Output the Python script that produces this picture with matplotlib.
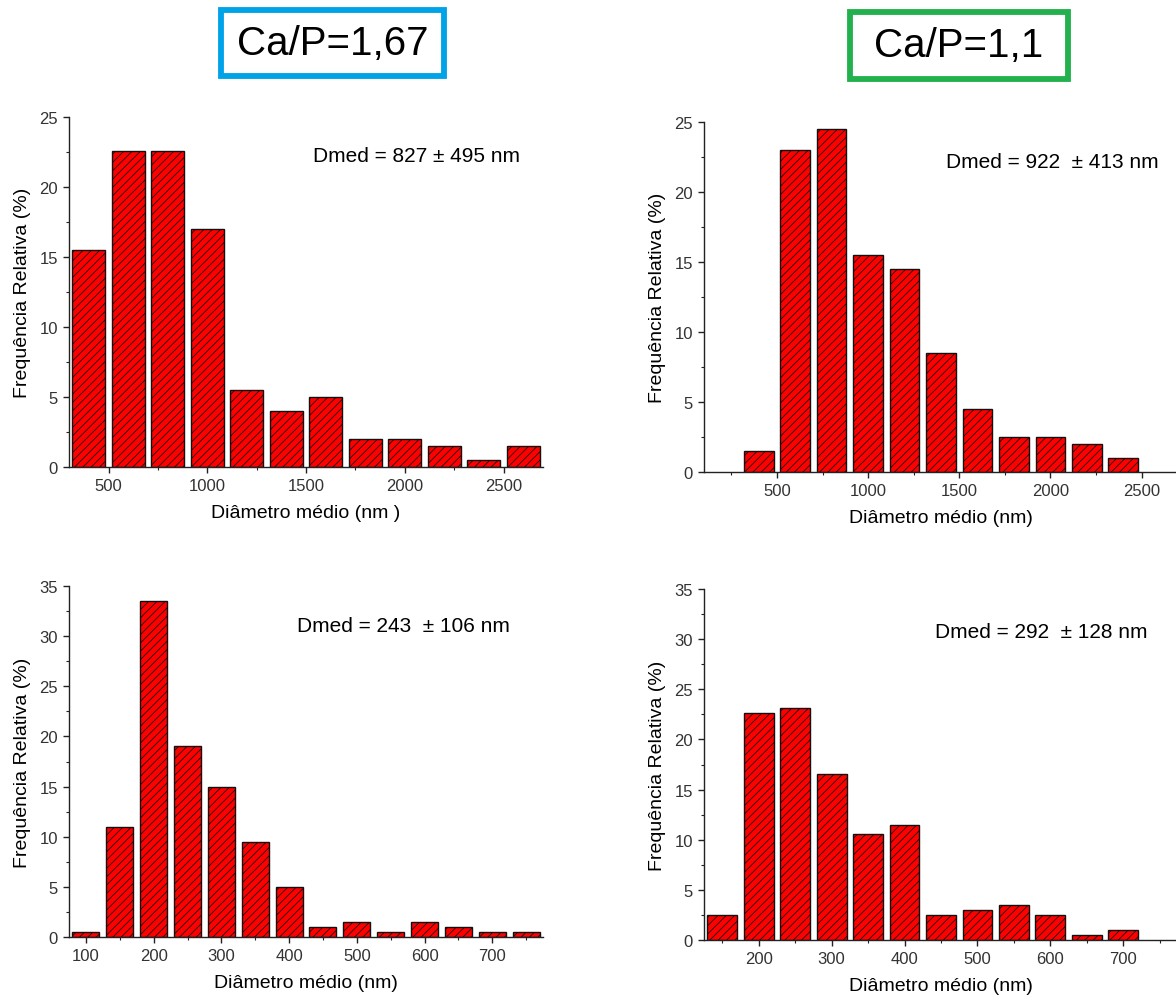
import numpy as np
import matplotlib
matplotlib.use("Agg")
import matplotlib.pyplot as plt
from matplotlib.patches import Rectangle
from matplotlib.ticker import MultipleLocator

# --- Daten ---
tl_centers = [400, 600, 800, 1000, 1200, 1400, 1600, 1800, 2000, 2200, 2400, 2600]
tl_freq = [15.5, 22.6, 22.6, 17.0, 5.5, 4.0, 5.0, 2.0, 2.0, 1.5, 0.5, 1.5]

tr_centers = [400, 600, 800, 1000, 1200, 1400, 1600, 1800, 2000, 2200, 2400]
tr_freq = [1.5, 23.0, 24.5, 15.5, 14.5, 8.5, 4.5, 2.5, 2.5, 2.0, 1.0]

bl_centers = [100, 150, 200, 250, 300, 350, 400, 450, 500, 550, 600, 650, 700, 750]
bl_freq = [0.5, 11.0, 33.5, 19.0, 15.0, 9.5, 5.0, 1.0, 1.5, 0.5, 1.5, 1.0, 0.5, 0.5]

br_centers = [150, 200, 250, 300, 350, 400, 450, 500, 550, 600, 650, 700]
br_freq = [2.5, 22.6, 23.1, 16.6, 10.6, 11.5, 2.5, 3.0, 3.5, 2.5, 0.5, 1.0]

titles = ["Ca/P=1,67", "Ca/P=1,1"]
dmed_labels = ["Dmed = 827 \u00b1 495 nm", "Dmed = 922  \u00b1 413 nm",
               "Dmed = 243  \u00b1 106 nm", "Dmed = 292  \u00b1 128 nm"]

plt.rcParams['font.family'] = ['Liberation Sans', 'DejaVu Sans']
plt.rcParams['hatch.linewidth'] = 0.6

W, H = 1176, 1004
fig = plt.figure(figsize=(W / 100, H / 100), dpi=100)


def px_axes(x0, y_top, x1, y_bot):
    return fig.add_axes([x0 / W, 1 - y_bot / H, (x1 - x0) / W, (y_bot - y_top) / H])


def style(ax, xlim, ylim, xmaj, ymaj, xlabel):
    ax.set_xlim(*xlim)
    ax.set_ylim(*ylim)
    ax.xaxis.set_major_locator(MultipleLocator(xmaj))
    ax.xaxis.set_minor_locator(MultipleLocator(xmaj / 2))
    ax.yaxis.set_major_locator(MultipleLocator(ymaj))
    ax.yaxis.set_minor_locator(MultipleLocator(ymaj / 2))
    for s in ['top', 'right']:
        ax.spines[s].set_visible(False)
    for s in ['left', 'bottom']:
        ax.spines[s].set_linewidth(1.0)
        ax.spines[s].set_color('#222222')
    ax.tick_params(which='major', direction='out', length=4.5, width=1.0,
                   labelsize=12, labelcolor='#333333', color='#222222')
    ax.tick_params(which='minor', direction='out', length=2.5, width=0.8, color='#222222')
    ax.set_xlabel(xlabel, fontsize=14, labelpad=8)
    ax.set_ylabel('Frequência Relativa (%)', fontsize=14, labelpad=6)
    ax.patch.set_alpha(0)


def bars(ax, centers, freq, width):
    ax.bar(centers, freq, width=width, color='#ff0000', edgecolor='#111111',
           linewidth=1.0, hatch='////', zorder=2)


ax_tl = px_axes(69, 118, 543, 468)
bars(ax_tl, tl_centers, tl_freq, 165)
style(ax_tl, (300, 2700), (0, 25), 500, 5, 'Diâmetro médio (nm )')

ax_tr = px_axes(704, 123, 1178, 473)
bars(ax_tr, tr_centers, tr_freq, 163)
style(ax_tr, (100, 2700), (0, 25), 500, 5, 'Diâmetro médio (nm)')

ax_bl = px_axes(69, 587, 543, 938)
bars(ax_bl, bl_centers, bl_freq, 40)
style(ax_bl, (75, 775), (0, 35), 100, 5, 'Diâmetro médio (nm)')

ax_br = px_axes(704, 590, 1178, 941)
bars(ax_br, br_centers, br_freq, 41)
style(ax_br, (125, 775), (0, 35), 100, 5, 'Diâmetro médio (nm)')

# Dmed-Beschriftungen
for (x, y), lab in zip([(313, 156), (946, 162), (297, 627), (935, 632)], dmed_labels):
    fig.text(x / W, 1 - y / H, lab, fontsize=15, ha='left', va='center')

# Titelkästen
for (x0, y0, x1, y1), col, t in zip([(221, 11, 444, 77), (850, 13, 1068, 80)],
                                    ['#00a2e8', '#22b14c'], titles):
    fig.add_artist(Rectangle((x0 / W, 1 - y1 / H), (x1 - x0) / W, (y1 - y0) / H,
                             transform=fig.transFigure, fill=False,
                             edgecolor=col, linewidth=4.2))
    fig.text((x0 + x1) / 2 / W, 1 - (y0 + y1) / 2 / H, t, fontsize=29,
             ha='center', va='center')

fig.savefig('out.png', dpi=100)
